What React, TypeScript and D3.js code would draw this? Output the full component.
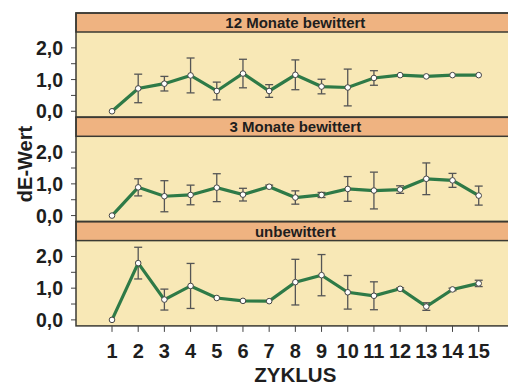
import * as d3 from 'd3';
import React, { useEffect, useRef } from 'react';

// Zyklus 1..15
const cycles: number[] = [1, 2, 3, 4, 5, 6, 7, 8, 9, 10, 11, 12, 13, 14, 15];

const panelTitles: string[] = ['12 Monate bewittert', '3 Monate bewittert', 'unbewittert'];

// mean dE values per panel
const mean12: number[] = [0.0, 0.72, 0.87, 1.13, 0.64, 1.19, 0.64, 1.15, 0.78, 0.75, 1.05, 1.14, 1.1, 1.14, 1.14];
const err12: number[] = [0, 0.45, 0.23, 0.55, 0.28, 0.45, 0.2, 0.47, 0.23, 0.58, 0.23, 0, 0, 0, 0];

const mean3: number[] = [0.0, 0.89, 0.61, 0.65, 0.88, 0.66, 0.91, 0.57, 0.65, 0.84, 0.79, 0.82, 1.16, 1.11, 0.63];
const err3: number[] = [0, 0.27, 0.49, 0.31, 0.44, 0.2, 0.05, 0.21, 0.08, 0.39, 0.58, 0.12, 0.5, 0.22, 0.3];

const meanU: number[] = [0.0, 1.79, 0.64, 1.07, 0.69, 0.6, 0.59, 1.19, 1.41, 0.87, 0.76, 0.98, 0.42, 0.96, 1.15];
const errU: number[] = [0, 0.5, 0.33, 0.71, 0, 0, 0, 0.72, 0.65, 0.53, 0.44, 0.03, 0.12, 0.04, 0.1];

const yMajor: number[] = [0, 1, 2];
const yMinor: number[] = [0.5, 1.5];

const width = 508;
const height = 385;

const App: React.FC = () => {
  const ref = useRef<SVGSVGElement>(null);

  useEffect(() => {
    if (!ref.current) return;
    const svg = d3.select(ref.current);
    svg.selectAll('*').remove();

    const font = '"Liberation Sans", Arial, sans-serif';
    const left = 76;
    const right = 520;
    const top = 13;
    const panelH = 104.3;
    const stripH = 19;

    const x = d3.scaleLinear().domain([1, 15]).range([112, 478.7]);

    const panels = [
      { title: panelTitles[0], mean: mean12, err: err12 },
      { title: panelTitles[1], mean: mean3, err: err3 },
      { title: panelTitles[2], mean: meanU, err: errU },
    ];

    panels.forEach((p, i) => {
      const py = top + i * panelH;
      const plotTop = py + stripH;
      const plotBottom = py + panelH;
      const y = d3.scaleLinear().domain([-0.19, 2.5]).range([plotBottom, plotTop]);
      const g = svg.append('g');

      g.append('rect')
        .attr('x', left).attr('y', plotTop)
        .attr('width', right - left).attr('height', plotBottom - plotTop)
        .attr('fill', '#f8e8b6');
      g.append('rect')
        .attr('x', left).attr('y', py)
        .attr('width', right - left).attr('height', stripH)
        .attr('fill', '#efb381')
        .attr('stroke', '#3b3a33').attr('stroke-width', 1.5);
      g.append('text')
        .attr('x', x(8)).attr('y', py + 15)
        .attr('text-anchor', 'middle')
        .attr('font-family', font).attr('font-weight', 'bold').attr('font-size', 15)
        .attr('fill', '#1e1e1e')
        .text(p.title);

      // y ticks
      g.selectAll('line.major')
        .data(yMajor)
        .join('line')
        .attr('x1', left - 5).attr('x2', left)
        .attr('y1', (d) => y(d)).attr('y2', (d) => y(d))
        .attr('stroke', '#444').attr('stroke-width', 1);
      g.selectAll('line.minor')
        .data(yMinor)
        .join('line')
        .attr('x1', left - 5).attr('x2', left)
        .attr('y1', (d) => y(d)).attr('y2', (d) => y(d))
        .attr('stroke', '#444').attr('stroke-width', 1);
      g.selectAll('text.tick')
        .data(yMajor)
        .join('text')
        .attr('x', 63).attr('y', (d) => y(d) + 7)
        .attr('text-anchor', 'end')
        .attr('font-family', font).attr('font-weight', 'bold').attr('font-size', 19.5)
        .attr('fill', '#1e1e1e')
        .text((d) => d.toFixed(1).replace('.', ','));

      // error bars
      const eb = g.append('g').attr('stroke', '#555').attr('stroke-width', 1.3);
      cycles.forEach((c, j) => {
        const e = p.err[j];
        if (e <= 0) return;
        const cx = x(c);
        const y1 = y(p.mean[j] + e);
        const y2 = y(p.mean[j] - e);
        eb.append('line').attr('x1', cx).attr('x2', cx).attr('y1', y1).attr('y2', y2);
        eb.append('line').attr('x1', cx - 4).attr('x2', cx + 4).attr('y1', y1).attr('y2', y1);
        eb.append('line').attr('x1', cx - 4).attr('x2', cx + 4).attr('y1', y2).attr('y2', y2);
      });

      const line = d3
        .line<number>()
        .x((_, j) => x(cycles[j]))
        .y((d) => y(d));
      g.append('path')
        .datum(p.mean)
        .attr('d', line)
        .attr('fill', 'none')
        .attr('stroke', '#2e7a47')
        .attr('stroke-width', 3.2);

      g.selectAll('circle')
        .data(p.mean)
        .join('circle')
        .attr('cx', (_, j) => x(cycles[j]))
        .attr('cy', (d) => y(d))
        .attr('r', 2.8)
        .attr('fill', '#fff')
        .attr('stroke', '#444')
        .attr('stroke-width', 1);

      // panel frame
      g.append('rect')
        .attr('x', left).attr('y', py)
        .attr('width', right - left).attr('height', panelH)
        .attr('fill', 'none')
        .attr('stroke', '#3b3a33').attr('stroke-width', 1.5);
    });

    const bottom = top + 3 * panelH;
    svg.append('g')
      .selectAll('line')
      .data(cycles)
      .join('line')
      .attr('x1', (d) => x(d)).attr('x2', (d) => x(d))
      .attr('y1', bottom).attr('y2', bottom + 6)
      .attr('stroke', '#444').attr('stroke-width', 1);
    svg.append('g')
      .selectAll('text')
      .data(cycles)
      .join('text')
      .attr('x', (d) => x(d)).attr('y', 358)
      .attr('text-anchor', 'middle')
      .attr('font-family', font).attr('font-weight', 'bold').attr('font-size', 20)
      .attr('fill', '#1e1e1e')
      .text((d) => String(d));

    svg.append('text')
      .attr('x', x(8)).attr('y', 382)
      .attr('text-anchor', 'middle')
      .attr('font-family', font).attr('font-weight', 'bold').attr('font-size', 20.5)
      .attr('fill', '#1e1e1e')
      .text('ZYKLUS');

    svg.append('text')
      .attr('transform', `translate(32,164) rotate(-90)`)
      .attr('text-anchor', 'middle')
      .attr('font-family', font).attr('font-weight', 'bold').attr('font-size', 20)
      .attr('fill', '#1e1e1e')
      .text('dE-Wert');
  }, []);

  return (
    <svg
      ref={ref}
      width={width}
      height={height}
      viewBox={`0 0 ${width} ${height}`}
      style={{ position: 'absolute', left: 0, top: 0, background: '#fff' }}
    ></svg>
  );
};

export default App;
